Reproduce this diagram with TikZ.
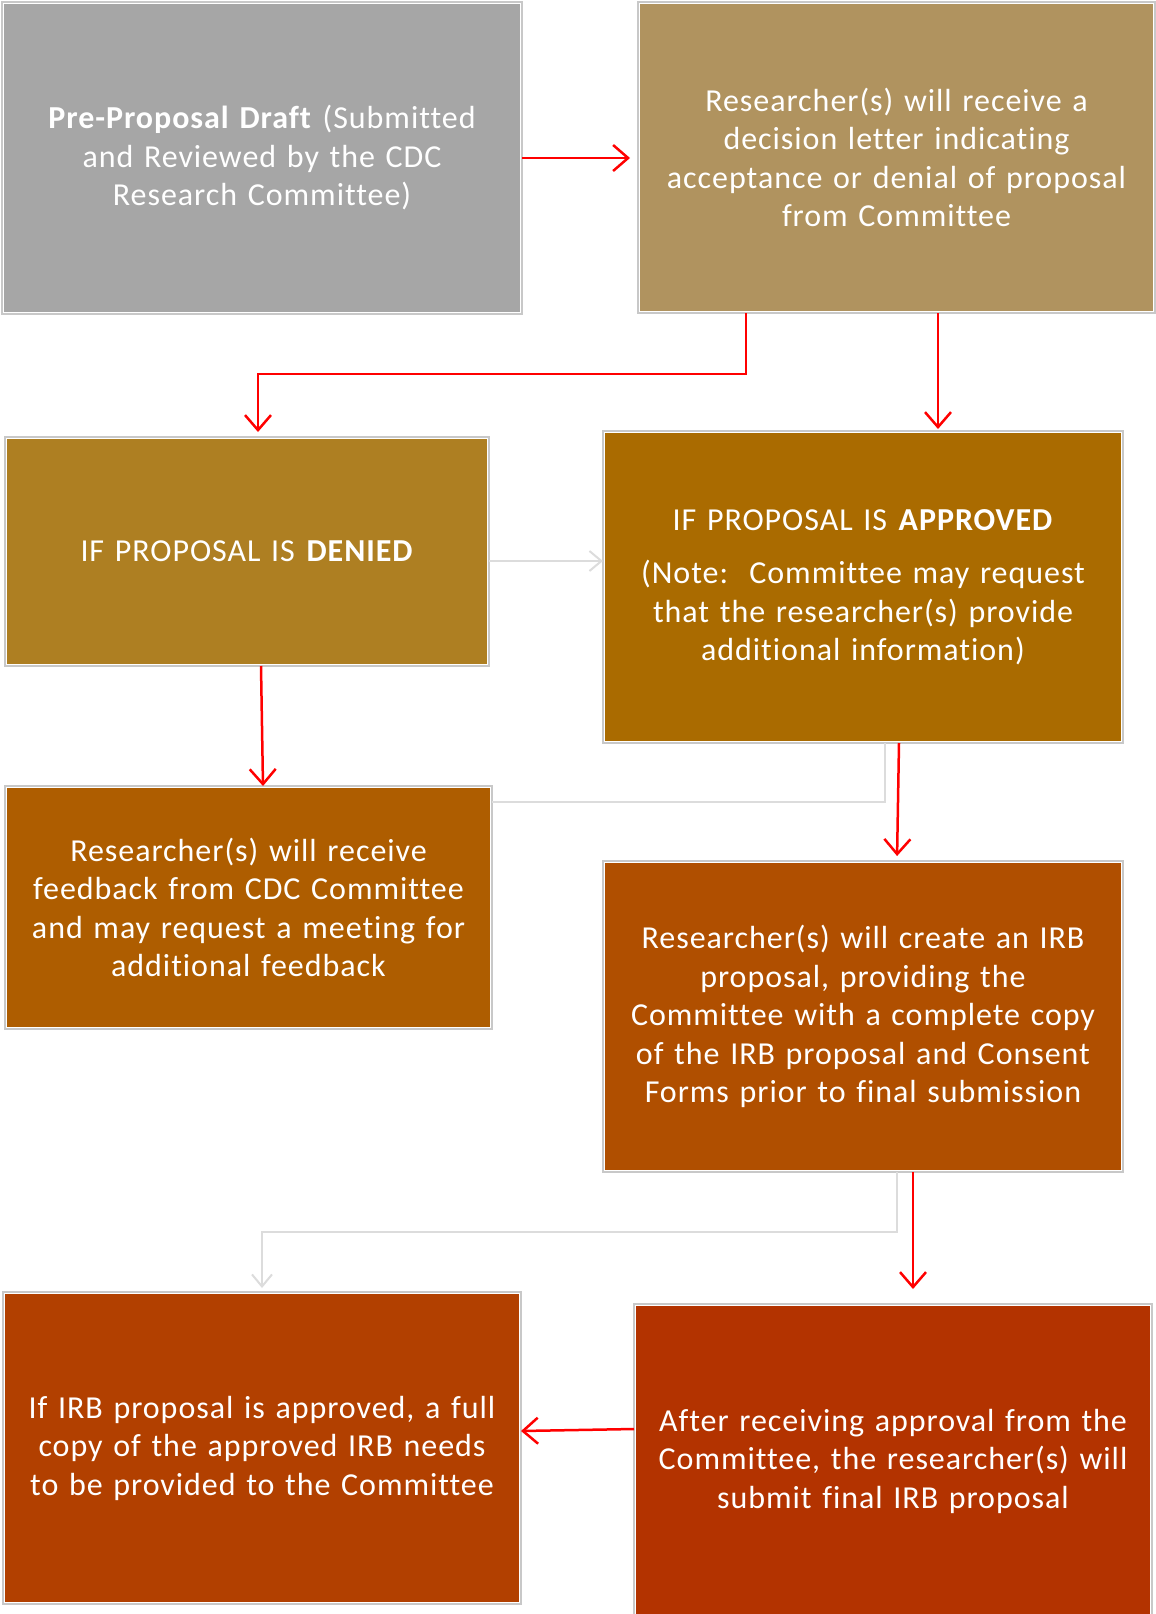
\documentclass[tikz,border=0pt]{standalone}
\usepackage{fontspec}
\setmainfont{Carlito}[Ligatures={NoCommon}, LetterSpace=3]
\usetikzlibrary{arrows.meta}
\definecolor{cA}{HTML}{A6A6A6}
\definecolor{cB}{HTML}{B0935F}
\definecolor{cC}{HTML}{AE7F22}
\definecolor{cD}{HTML}{AA6B00}
\definecolor{cE}{HTML}{AE5D00}
\definecolor{cF}{HTML}{B04F00}
\definecolor{cG}{HTML}{B24000}
\definecolor{cH}{HTML}{B33300}
\definecolor{arrred}{HTML}{FF0000}
\definecolor{framegray}{HTML}{C8C8C8}
\definecolor{lightline}{HTML}{DCDCDC}
\begin{document}
\begin{tikzpicture}[x=1pt,y=-1pt,
  box/.style={rectangle, inner sep=0pt, outer sep=2pt, text=white, align=center,
    font=\fontsize{32pt}{38.5pt}\selectfont},
  frame/.style={draw=framegray, line width=1.3pt},
  redarrow/.style={draw=arrred, line width=2.5pt, -{Straight Barb[length=15pt,width=26pt]}},
  grayarrow/.style={draw=lightline, line width=2pt, -{Straight Barb[length=12pt,width=20pt]}},
  grayline/.style={draw=lightline, line width=2pt}]
\useasboundingbox (0,0) rectangle (1156,1614);
\clip (0,0) rectangle (1156,1614);

\node[box, fill=cA, minimum width=516pt, minimum height=308pt, text width=500pt] (b1) at (262,158)
  {\textbf{Pre-Proposal Draft} (Submitted\\ and Reviewed by the CDC\\ Research Committee)};
\node[box, fill=cB, minimum width=513pt, minimum height=307pt, text width=500pt] (b2) at (896.5,157.5)
  {Researcher(s) will receive a\\ decision letter indicating\\ acceptance or denial of proposal\\ from Committee};
\node[box, fill=cC, minimum width=480pt, minimum height=225pt, text width=470pt] (b3) at (247,551.5)
  {IF PROPOSAL IS \textbf{DENIED}};
\node[box, fill=cD, minimum width=516pt, minimum height=308pt, text width=500pt] (b4) at (863,587)
  {IF PROPOSAL IS \textbf{APPROVED}\\[15pt] (Note:\ \ Committee may request\\ that the researcher(s) provide\\ additional information)};
\node[box, fill=cE, minimum width=483pt, minimum height=239pt, text width=475pt] (b5) at (248.5,907.5)
  {Researcher(s) will receive\\ feedback from CDC Committee\\ and may request a meeting for\\ additional feedback};
\node[box, fill=cF, minimum width=516pt, minimum height=307pt, text width=500pt] (b6) at (863,1016.5)
  {Researcher(s) will create an IRB\\ proposal, providing the\\ Committee with a complete copy\\ of the IRB proposal and Consent\\ Forms prior to final submission};
\node[box, fill=cG, minimum width=514pt, minimum height=308pt, text width=500pt] (b7) at (262,1448)
  {If IRB proposal is approved, a full\\ copy of the approved IRB needs\\ to be provided to the Committee};
\node[box, fill=cH, minimum width=514pt, minimum height=310pt, text width=500pt] (b8) at (893,1461)
  {After receiving approval from the\\ Committee, the researcher(s) will\\ submit final IRB proposal};

\foreach \b in {b1,b2,b3,b4,b5,b6,b7,b8}
  \draw[frame] (\b.north west) rectangle (\b.south east);

% helper coordinates
\coordinate (xA) at (746,0);
\coordinate (jA) at (746,374);
\coordinate (xA2) at (258,0);
\coordinate (xB) at (938,0);
\coordinate (yC) at (0,561);
\coordinate (xD1) at (261,0);
\coordinate (xD2) at (263,0);
\coordinate (jE) at (885,802);
\coordinate (xF1) at (899,0);
\coordinate (xF2) at (897,0);
\coordinate (jG) at (897,1232);
\coordinate (xG) at (262,0);
\coordinate (xH) at (913,0);
\coordinate (yI1) at (0,1429);
\coordinate (yI2) at (0,1431);

% gray connectors
\draw[grayarrow] (b3.east |- yC) -- (b4.west |- yC);
\draw[grayline] (b4.south -| jE) -- (jE) -- (b5.east |- jE);
\draw[grayarrow, shorten >=4pt] (b6.south -| jG) -- (jG) -| (b7.north -| xG);

% red connectors
\draw[redarrow, shorten >=8pt] (b1.east) -- (b2.west |- b1.east);
\draw[redarrow, shorten >=5pt] (b2.south -| xA) -- (jA) -| (b3.north -| xA2);
\draw[redarrow, shorten >=2pt] (b2.south -| xB) -- (b4.north -| xB);
\draw[redarrow] (b3.south -| xD1) -- (b5.north -| xD2);
\draw[redarrow, shorten >=5pt] (b4.south -| xF1) -- (b6.north -| xF2);
\draw[redarrow, shorten >=15pt] (b6.south -| xH) -- (b8.north -| xH);
\draw[redarrow] (b8.west |- yI1) -- (b7.east |- yI2);
\end{tikzpicture}
\end{document}
